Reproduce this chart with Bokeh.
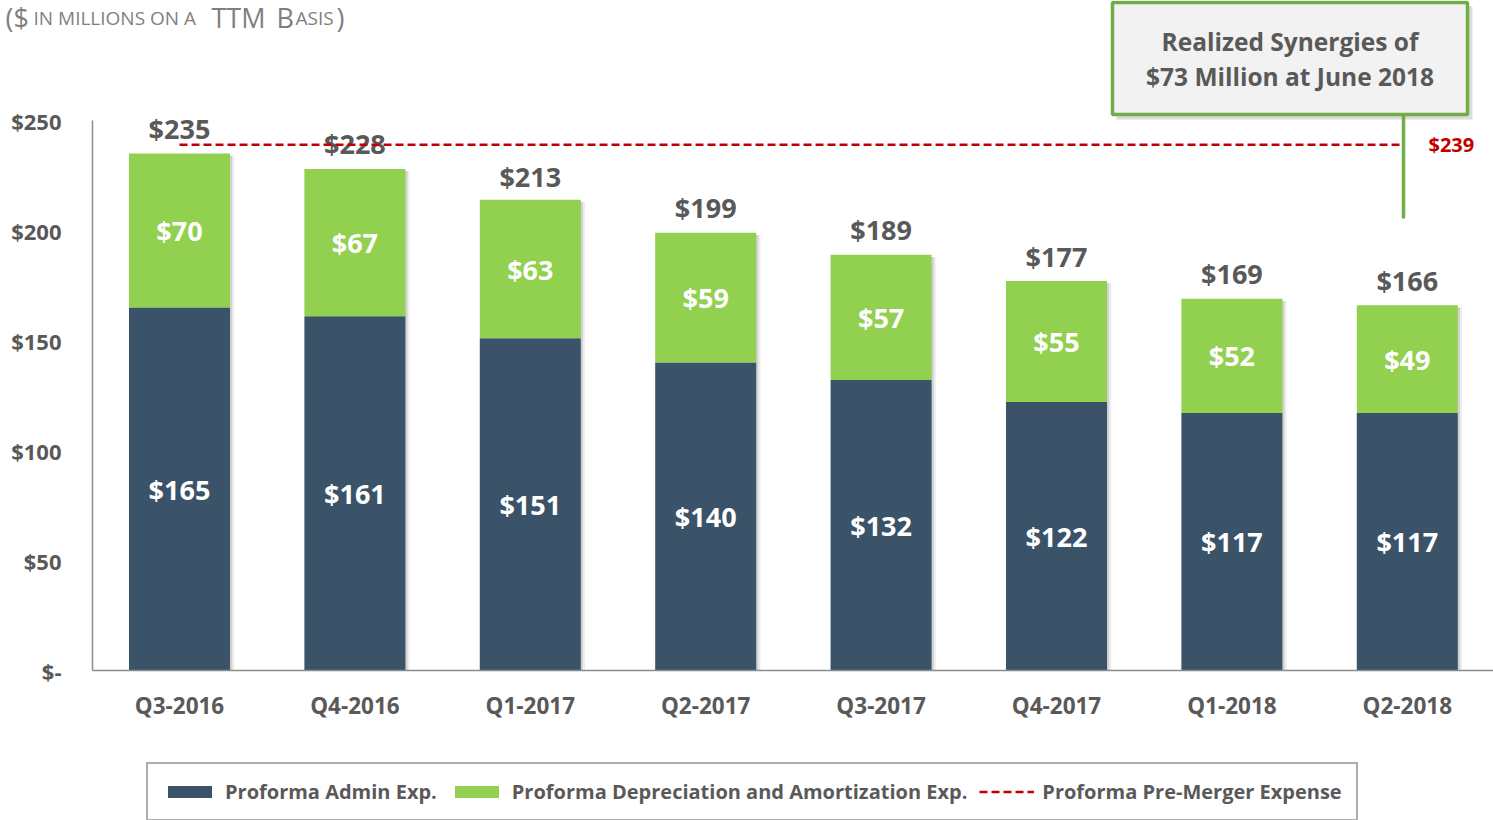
from bokeh.plotting import figure
from bokeh.models import (Range1d, FixedTicker, Legend, LegendItem, ColumnDataSource, Label)
from bokeh.core.properties import value
from bokeh.embed import file_html
from bokeh.resources import INLINE

# ---------------- data ----------------
quarters = ["Q3-2016", "Q4-2016", "Q1-2017", "Q2-2017", "Q3-2017", "Q4-2017", "Q1-2018", "Q2-2018"]
admin = [165, 161, 151, 140, 132, 122, 117, 117]
dep_amort = [70, 67, 63, 59, 57, 55, 52, 49]
totals = [235, 228, 213, 199, 189, 177, 169, 166]
pre_merger = 239
y_ticks = [0, 50, 100, 150, 200, 250]
y_tick_labels = ["$-", "$50", "$100", "$150", "$200", "$250"]
synergy_lines = ["Realized Synergies of", "$73 Million at June 2018"]
series_names = ["Proforma Admin Exp.", "Proforma Depreciation and Amortization Exp.",
                "Proforma Pre-Merger Expense"]

# ---------------- style ----------------
FONT = "Open Sans"
DARK = "#3B5369"
GREEN = "#92D050"
RED = "#C00000"
GREY_TXT = "#595959"
AXIS_GREY = "#8C8C8C"
BOX_GREEN = "#70AD47"

W, H = 1493, 820
# horizontal: 1 category step = 175.4 px, first bar centre at 179 px
x_range = Range1d(-179 / 175.4, (W - 179) / 175.4)
# vertical: 2.2 px per $1M, zero line at 670 px
y_range = Range1d(-(H - 670) / 2.2, 670 / 2.2)

p = figure(width=W, height=H, output_backend="svg", toolbar_location=None,
           x_range=x_range, y_range=y_range,
           min_border_left=0, min_border_right=0, min_border_top=0, min_border_bottom=0)
p.outline_line_color = None
p.xgrid.visible = False
p.ygrid.visible = False
p.background_fill_color = "white"
p.border_fill_color = "white"

xs = list(range(len(quarters)))
stack_top = [a + d for a, d in zip(admin, dep_amort)]
src = ColumnDataSource(dict(
    x=xs, quarter=quarters, admin=admin, dep=dep_amort, total=totals,
    top=stack_top,
    sh1_x=[x + 0.012 for x in xs], sh2_x=[x + 0.024 for x in xs],
    sh_top=[t - 1.0 for t in stack_top],
    admin_mid=[a / 2 for a in admin],
    dep_mid=[a + d / 2 for a, d in zip(admin, dep_amort)],
    admin_lbl=[f"${a}" for a in admin],
    dep_lbl=[f"${d}" for d in dep_amort],
    total_lbl=[f"${t}" for t in totals],
))

BAR_W = 0.576
# soft shadow to the right of each bar
p.vbar(x="sh2_x", top="sh_top", bottom=0, width=BAR_W, source=src,
       fill_color="#9A9A9A", fill_alpha=0.18, line_color=None)
p.vbar(x="sh1_x", top="sh_top", bottom=0, width=BAR_W, source=src,
       fill_color="#8A8A8A", fill_alpha=0.28, line_color=None)

bars = p.vbar_stack(["admin", "dep"], x="x", width=BAR_W, color=[DARK, GREEN],
                    line_color=None, source=src)

# labels inside bars
for col_y, col_t in (("admin_mid", "admin_lbl"), ("dep_mid", "dep_lbl")):
    p.text(x="x", y=col_y, text=col_t, source=src, text_align="center",
           text_baseline="middle", text_color="white", text_font=value(FONT),
           text_font_style="bold", text_font_size="27px")

# total labels
p.text(x="x", y="total", text="total_lbl", source=src, text_align="center",
       text_baseline="middle", y_offset=-25, text_color=GREY_TXT, text_font=value(FONT),
       text_font_style="bold", text_font_size="27px")

# callout box (page-pixel geometry converted to data units)
def px_x(px):
    return (px - 179) / 175.4

def px_y(py):
    return (670 - py) / 2.2

conn_x = px_x(1403)
box_l, box_r, box_t, box_b = px_x(1112), px_x(1467), px_y(2), px_y(114)
p.quad(left=[px_x(1116)], right=[px_x(1472)], top=[px_y(6)], bottom=[px_y(119)],
       fill_color="#A6A6A6", fill_alpha=0.4, line_color=None)
p.quad(left=[box_l], right=[box_r], top=[box_t], bottom=[box_b],
       fill_color="#F2F2F2", line_color=BOX_GREEN, line_width=3.5)
p.segment(x0=[conn_x], y0=[box_b], x1=[conn_x], y1=[px_y(218)], line_color=BOX_GREEN,
          line_width=3.5)
p.text(x=[(box_l + box_r) / 2] * 2, y=[px_y(41), px_y(76)], text=synergy_lines,
       text_align="center", text_baseline="middle", text_color=GREY_TXT,
       text_font=value(FONT), text_font_style="bold", text_font_size="24.5px")

# pre-merger dashed line
pm = p.line(x=[0, conn_x], y=[pre_merger, pre_merger], line_color=RED, line_width=2.5,
            line_dash="8 4")
p.text(x=[px_x(1428)], y=[pre_merger], text=[f"${pre_merger}"], text_align="left",
       text_baseline="middle", text_color=RED, text_font=value(FONT),
       text_font_style="bold", text_font_size="20px")

# axes
p.yaxis.fixed_location = px_x(92)
p.yaxis.ticker = FixedTicker(ticks=y_ticks)
p.yaxis.major_label_overrides = {t: l for t, l in zip(y_ticks, y_tick_labels)}
p.yaxis.bounds = (0, 250)
p.yaxis.axis_line_color = AXIS_GREY
p.yaxis.axis_line_width = 1.5
p.yaxis.major_tick_line_color = None
p.yaxis.minor_tick_line_color = None
p.yaxis.major_label_standoff = 25
p.yaxis.major_label_text_font = FONT
p.yaxis.major_label_text_font_style = "bold"
p.yaxis.major_label_text_font_size = "22px"
p.yaxis.major_label_text_color = GREY_TXT

p.xaxis.fixed_location = 0
p.xaxis.bounds = (px_x(92), px_x(W))
p.xaxis.ticker = FixedTicker(ticks=xs)
p.xaxis.major_label_overrides = {i: q for i, q in enumerate(quarters)}
p.xaxis.axis_line_color = AXIS_GREY
p.xaxis.axis_line_width = 1.5
p.xaxis.major_tick_line_color = None
p.xaxis.minor_tick_line_color = None
p.xaxis.major_label_standoff = 13
p.xaxis.major_label_text_font = FONT
p.xaxis.major_label_text_font_style = "bold"
p.xaxis.major_label_text_font_size = "22.5px"
p.xaxis.major_label_text_color = GREY_TXT

# title (small caps emulation)
title_y = px_y(17)
pieces = [("($", 5, 27), ("IN MILLIONS ON A", 33, 19), ("TTM", 211, 27),
          ("B", 276, 27), ("ASIS", 295, 19), (")", 336, 27)]
for txt, xpx, fs in pieces:
    p.add_layout(Label(x=px_x(xpx), y=title_y, text=txt, text_align="left",
                       text_baseline="alphabetic", text_color="#7F7F7F",
                       text_font=FONT, text_font_size=f"{fs}px"))

# legend
legend = Legend(items=[
    LegendItem(label=series_names[0], renderers=[bars[0]]),
    LegendItem(label=series_names[1], renderers=[bars[1]]),
    LegendItem(label=series_names[2], renderers=[pm]),
], orientation="horizontal", location=(146, -1))
legend.border_line_color = "#595959"
legend.border_line_width = 2
legend.padding = 14
legend.margin = 0
legend.spacing = 12
legend.label_standoff = 8
legend.glyph_width = 55
legend.glyph_height = 15
legend.label_text_font = FONT
legend.label_text_font_style = "bold"
legend.label_text_font_size = "20px"
legend.label_text_color = GREY_TXT
legend.background_fill_color = "white"
p.add_layout(legend)

open("out.html", "w").write(file_html(p, INLINE))
